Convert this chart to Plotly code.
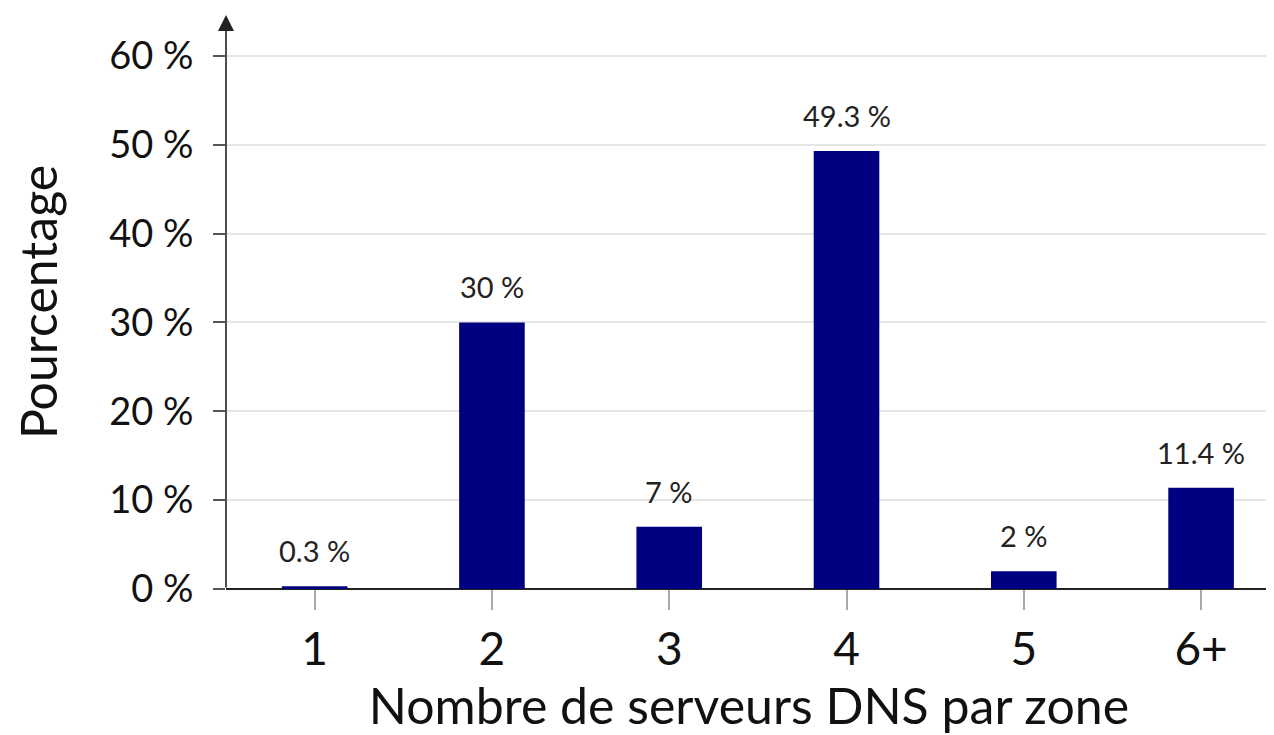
import plotly.graph_objects as go

categories = ['1', '2', '3', '4', '5', '6+']
values = [0.3, 30, 7, 49.3, 2, 11.4]
labels = ['0.3 %', '30 %', '7 %', '49.3 %', '2 %', '11.4 %']
y_ticks = [0, 10, 20, 30, 40, 50, 60]
y_tick_text = ['0 %', '10 %', '20 %', '30 %', '40 %', '50 %', '60 %']

FONT = 'Lato'

fig = go.Figure()
fig.add_trace(go.Bar(
    x=categories,
    y=values,
    marker=dict(color='#000080', line=dict(width=0)),
    width=0.37,
))

# value labels above the bars (category index used as x)
for i, (val, lab) in enumerate(zip(values, labels)):
    fig.add_annotation(
        x=i, y=val, text=lab, showarrow=False,
        yanchor='bottom', yshift=16,
        font=dict(family=FONT, size=29, color='#222222'),
    )

# y axis arrow
fig.add_annotation(
    x=-0.5, y=64.6, ax=-0.5, ay=0,
    xref='x', yref='y', axref='x', ayref='y',
    text='', showarrow=True, arrowhead=2, arrowsize=2,
    arrowwidth=1.6, arrowcolor='#222222',
)

# page body adds an 8px margin, so margins are shifted by that amount
fig.update_layout(
    width=1274, height=735,
    margin=dict(l=218, r=10, t=7, b=154),
    plot_bgcolor='white', paper_bgcolor='white',
    showlegend=False,
    font=dict(family=FONT, color='#111111'),
    xaxis=dict(
        type='category',
        range=[-0.5, 5.4],
        automargin=False,
        showgrid=False,
        showline=False,
        ticks='outside', ticklen=20, tickwidth=1.5, tickcolor='#aaaaaa',
        tickfont=dict(family=FONT, size=46),
        ticklabelstandoff=0,
        title=dict(text='Nombre de serveurs DNS par zone',
                   font=dict(family=FONT, size=50), standoff=6),
        zeroline=False,
    ),
    yaxis=dict(
        range=[0, 64.6],
        automargin=False,
        tickvals=y_ticks, ticktext=y_tick_text,
        showgrid=True, gridcolor='#e6e6e6', gridwidth=1.5,
        ticks='outside', ticklen=12, tickwidth=1.5, tickcolor='#555555',
        tickfont=dict(family=FONT, size=38),
        ticklabelstandoff=12,
        showline=False,
        zeroline=True, zerolinecolor='#222222', zerolinewidth=2,
        title=dict(text='Pourcentage', font=dict(family=FONT, size=50), standoff=48),
    ),
)

fig.write_html('out.html')
